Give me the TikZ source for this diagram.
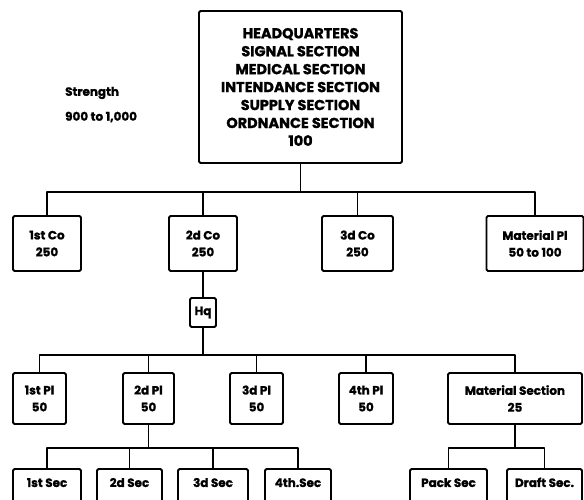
\documentclass[tikz,border=0pt]{standalone}
\usepackage{fontspec}
\setmainfont{Poppins}[BoldFeatures={FakeBold=1.2}]
\usepackage{tikz}
\usetikzlibrary{positioning, calc}
\tikzset{
  unitbox/.style={
    rectangle,
    draw,
    line width=1.9bp,
    rounded corners=1.5bp,
    align=center,
    font=\bfseries\fontsize{12}{17}\selectfont,
    inner sep=0pt
  },
  hqbox/.style={
    unitbox,
    minimum width=203bp,
    minimum height=152bp,
    font=\bfseries\fontsize{14.5}{18}\selectfont
  },
  cobox/.style={
    unitbox,
    minimum height=55bp
  },
  plbox/.style={
    unitbox,
    minimum height=51bp
  },
  secbox/.style={
    unitbox,
    anchor=north,
    text height=10bp,
    text depth=25bp,
    inner ysep=8bp
  },
  notetext/.style={
    anchor=west,
    font=\bfseries\fontsize{12}{13}\selectfont,
    inner sep=0pt
  },
  orgline/.style={
    line width=1.9bp,
    line join=round
  }
}

\begin{document}
\begin{tikzpicture}[x=1bp, y=-1bp]
  \clip (0,0) rectangle (584,500);
  \node[hqbox] (hq) at (300.5,87) {HEADQUARTERS\\SIGNAL SECTION\\MEDICAL SECTION\\INTENDANCE SECTION\\SUPPLY SECTION\\ORDNANCE SECTION\\100};
  \node[notetext] (strength) at (65,93) {Strength};
  \node[notetext] (total) at (65,117) {900 to 1,000};

  \node[cobox, minimum width=68bp] (co1) at (47,243.5) {1st Co\\250};
  \node[cobox, minimum width=68bp] (co2) at (203,243.5) {2d Co\\250};
  \node[cobox, minimum width=71bp] (co3) at (357.5,243.5) {3d Co\\250};
  \node[cobox, minimum width=97bp] (matpl) at (535,243.5) {Material Pl\\50 to 100};
  \node[unitbox, minimum width=26bp, minimum height=29bp] (hqpl) at (203,312.5) {Hq};

  \node[plbox, minimum width=53bp] (pl1) at (39.5,398.5) {1st Pl\\50};
  \node[plbox, minimum width=51bp] (pl2) at (148.5,398.5) {2d Pl\\50};
  \node[plbox, minimum width=53bp] (pl3) at (256.5,398.5) {3d Pl\\50};
  \node[plbox, minimum width=54bp] (pl4) at (366,398.5) {4th Pl\\50};
  \node[plbox, minimum width=134bp] (matsec) at (515,398.5) {Material Section\\25};

  \node[secbox, minimum width=68bp] (sec1) at (47,468) {1st Sec};
  \node[secbox, minimum width=65bp] (sec2) at (129.5,468) {2d Sec};
  \node[secbox, minimum width=70bp] (sec3) at (213,468) {3d Sec};
  \node[secbox, minimum width=66bp] (sec4) at (298,468) {4th.Sec};
  \node[secbox, minimum width=77bp] (pack) at (448.5,468) {Pack Sec};
  \node[secbox, minimum width=75bp] (draft) at (544.5,468) {Draft Sec.};

  \coordinate (bus1) at (300.5,192);
  \coordinate (bus2) at (203,355);
  \coordinate (bus3) at (148.5,448);
  \coordinate (bus4) at (515,448);

  \draw[orgline] (hq.south) -- (bus1);
  \draw[orgline] (co1.north) |- (bus1) -| (matpl.north);
  \draw[orgline] (co2.north) -- (co2.north |- bus1);
  \draw[orgline] (co3.north) -- (co3.north |- bus1);
  \draw[orgline] (co2.south) -- (hqpl.north);
  \draw[orgline] (hqpl.south) -- (bus2);
  \draw[orgline] (pl1.north) |- (bus2) -| (matsec.north);
  \draw[orgline] (pl2.north) -- (pl2.north |- bus2);
  \draw[orgline] (pl3.north) -- (pl3.north |- bus2);
  \draw[orgline] (pl4.north) -- (pl4.north |- bus2);
  \draw[orgline] (pl2.south) -- (bus3);
  \draw[orgline] (sec1.north) |- (bus3) -| (sec4.north);
  \draw[orgline] (sec2.north) -- (sec2.north |- bus3);
  \draw[orgline] (sec3.north) -- (sec3.north |- bus3);
  \draw[orgline] (matsec.south) -- (bus4);
  \draw[orgline] (pack.north) |- (bus4) -| (draft.north);
\end{tikzpicture}
\end{document}
